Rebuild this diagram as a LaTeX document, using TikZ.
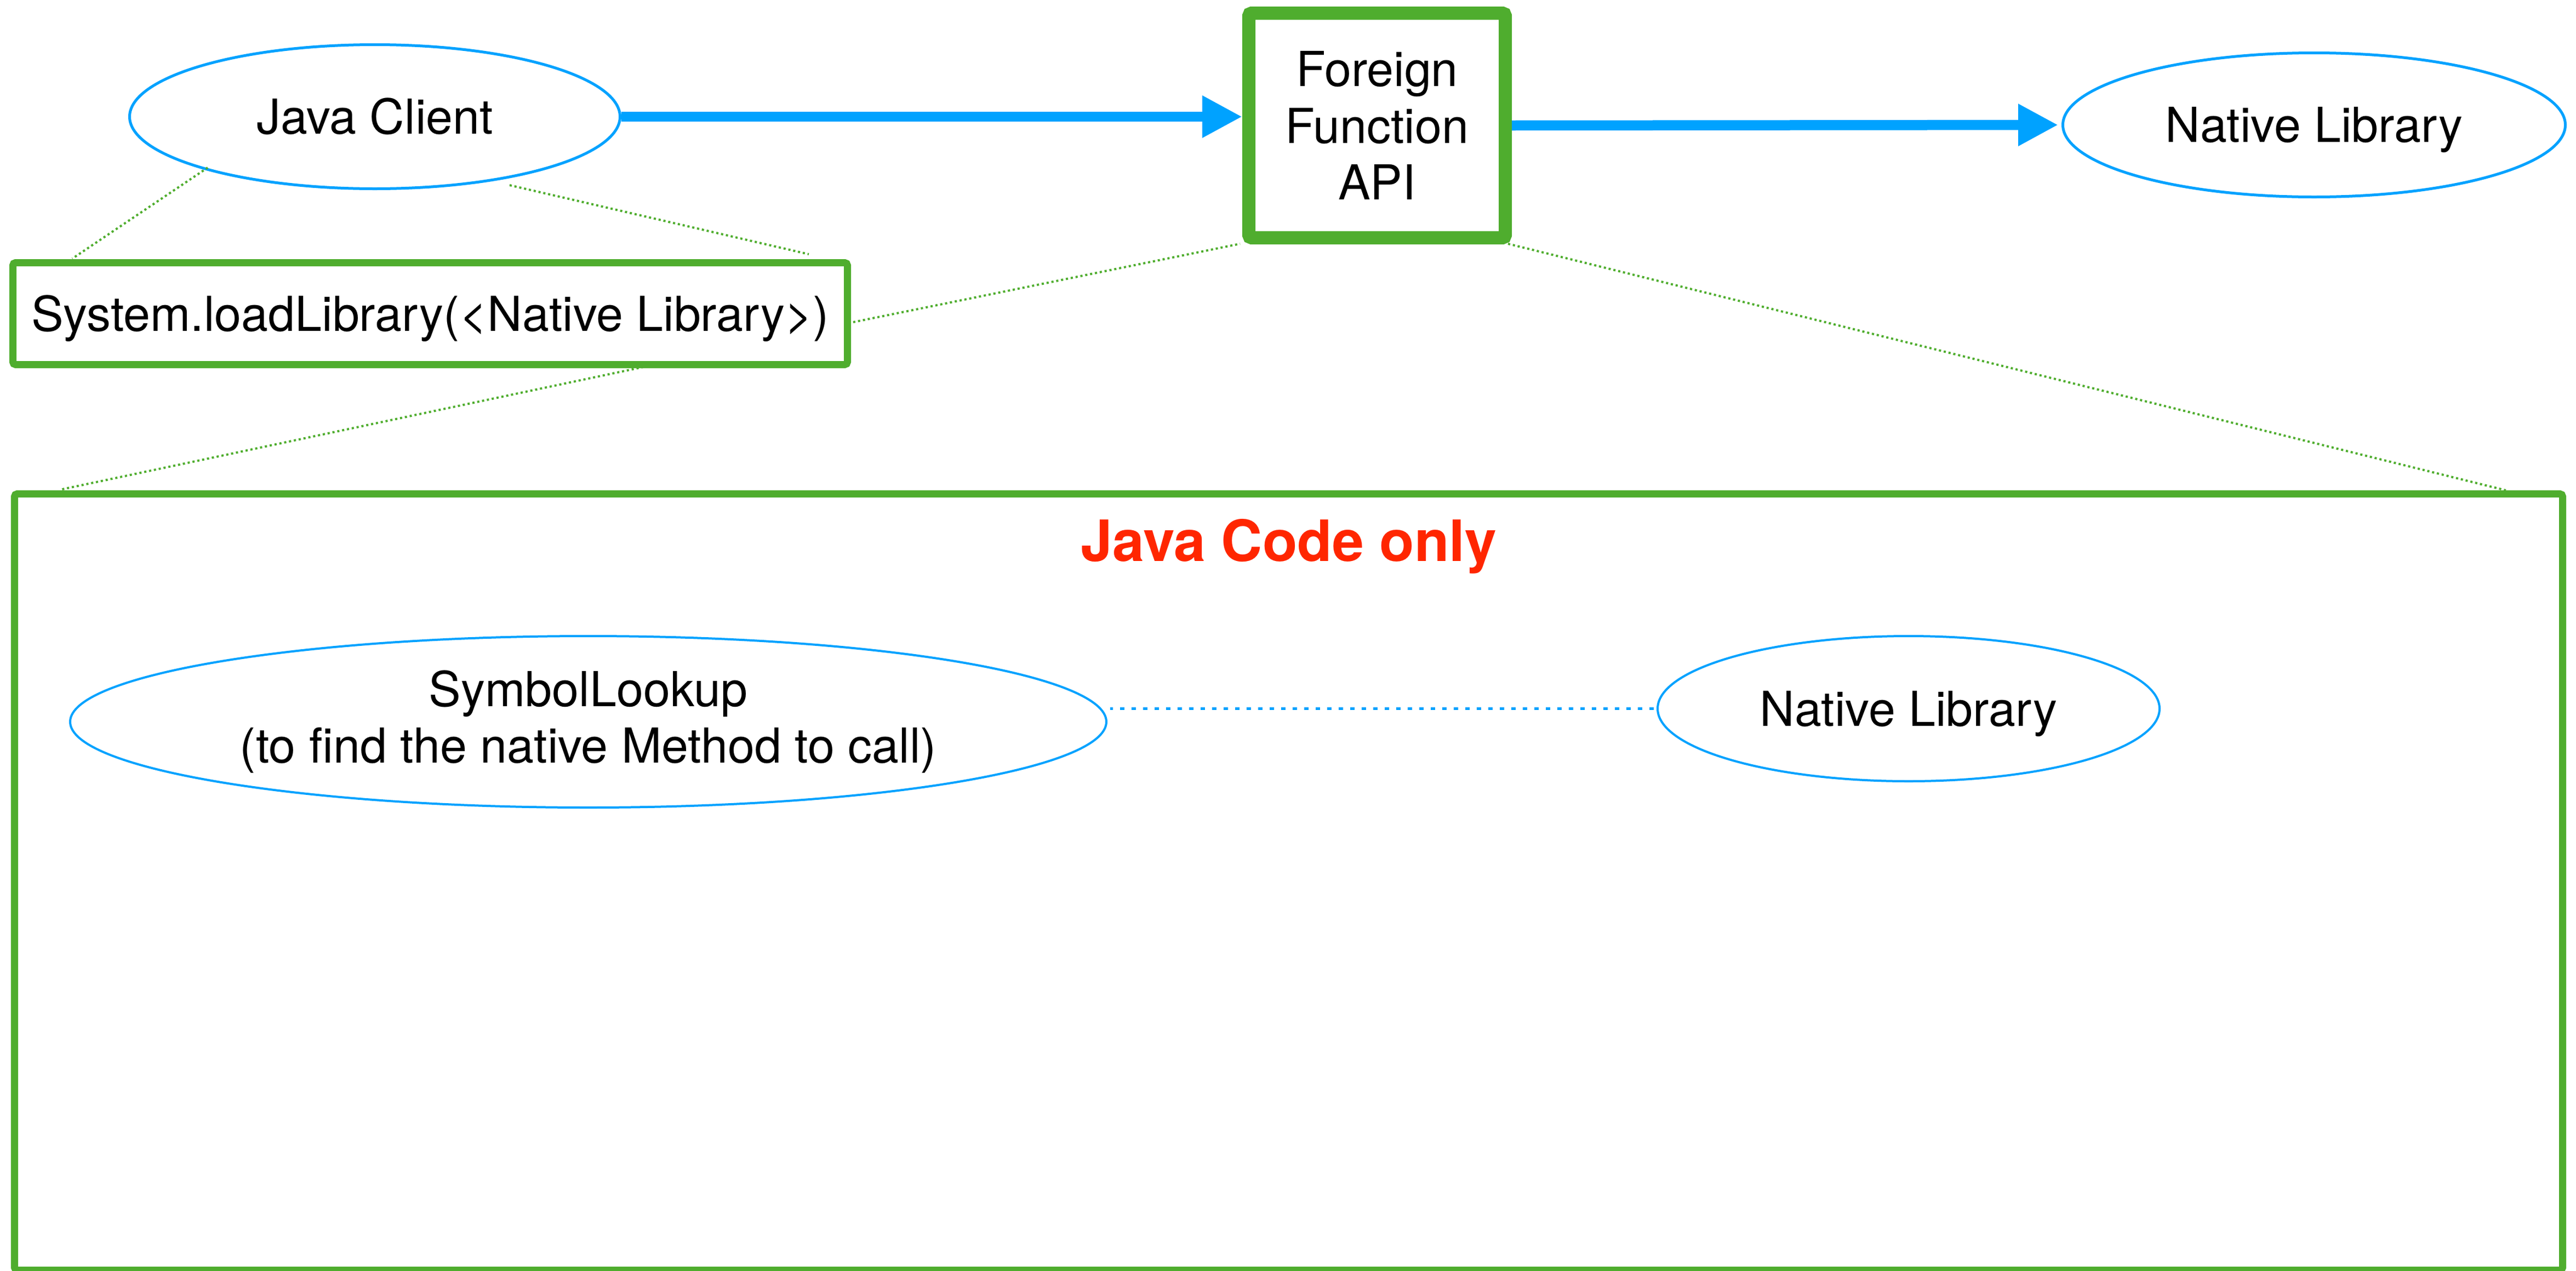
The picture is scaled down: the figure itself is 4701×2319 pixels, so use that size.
\documentclass[tikz,border=0pt]{standalone}
\usepackage{fontspec}
\setmainfont{TeX Gyre Heros}
\usetikzlibrary{shapes.geometric,arrows.meta,calc}
\definecolor{cblue}{RGB}{0,162,255}
\definecolor{cgreen}{RGB}{79,173,46}
\definecolor{cred}{RGB}{255,38,0}
\begin{document}
\begin{tikzpicture}[x=1pt,y=-1pt,
  txt/.style={font=\fontsize{88}{103.5}\selectfont},
  blueell/.style={ellipse, draw=cblue, line width=5pt, inner sep=0pt, txt},
  greenbox/.style={rectangle, draw=cgreen, inner sep=0pt, txt, rounded corners=5pt},
  greendot/.style={draw=cgreen, line width=4pt, dash pattern=on 4pt off 5pt},
  bluedot/.style={draw=cblue, line width=4.5pt, dash pattern=on 8pt off 13pt},
  bluearrow/.style={draw=cblue, line width=18.5pt, -{Triangle[length=73pt,width=72pt]}},
  onecap/.style={text height=63pt, text depth=0pt}
  ]
\useasboundingbox (0,0) rectangle (4701,2319);

% top row
\node[blueell, minimum width=895pt, minimum height=263pt, onecap] (jc) at (684,213) {Java Client};
\node[greenbox, line width=24pt, minimum width=468pt, minimum height=410pt, align=center] (ffa) at (2513,229) {Foreign\\Function\\API};
\node[blueell, minimum width=917pt, minimum height=263pt, onecap] (lib) at (4223,228) {Native Library};
\node[greenbox, line width=13pt, minimum width=1523pt, minimum height=186pt, onecap] (load) at (785,572.5) {System.loadLibrary(<Native Library>)};

% big box
\node[draw=cgreen, line width=13pt, rounded corners=5pt, minimum width=4650pt, minimum height=1417pt, inner sep=0pt] (code) at (2351.5,1610) {};
\node[font=\fontsize{104}{120}\selectfont\bfseries, text=cred, anchor=base, inner sep=0pt] (title) at (2352,1024) {Java Code only};

\node[blueell, line width=4pt, minimum width=1891pt, minimum height=313pt, align=center] (sym) at (1073.5,1317.5) {SymbolLookup\\(to find the native Method to call)};
\node[blueell, line width=4pt, minimum width=916pt, minimum height=265pt, onecap] (lib2) at (3483,1293.5) {Native Library};

% connectors
\draw[bluearrow] (jc.east) -- (jc.east -| ffa.west);
\draw[bluearrow, shorten >=6pt] (ffa.east) -- (lib.west);
\draw[bluedot, shorten <=5pt] (lib2.west) -- ($(sym.east |- lib2.west)+(5,0)$);

% green dotted zoom lines
\coordinate (g1a) at (379,306);
\coordinate (g1b) at (132,472);
\coordinate (g2a) at (930,338);
\coordinate (g2b) at (1476,464);
\coordinate (g3a) at (1557,588);
\coordinate (g3b) at (2263,445);
\coordinate (g4a) at (1183,668);
\coordinate (g4b) at (109,894);
\coordinate (g5a) at (2752,445);
\coordinate (g5b) at (4573,895);
\draw[greendot] (g1a) -- (g1b);
\draw[greendot] (g2a) -- (g2b);
\draw[greendot] (g3a) -- (g3b);
\draw[greendot] (g4a) -- (g4b);
\draw[greendot] (g5a) -- (g5b);
\end{tikzpicture}
\end{document}
